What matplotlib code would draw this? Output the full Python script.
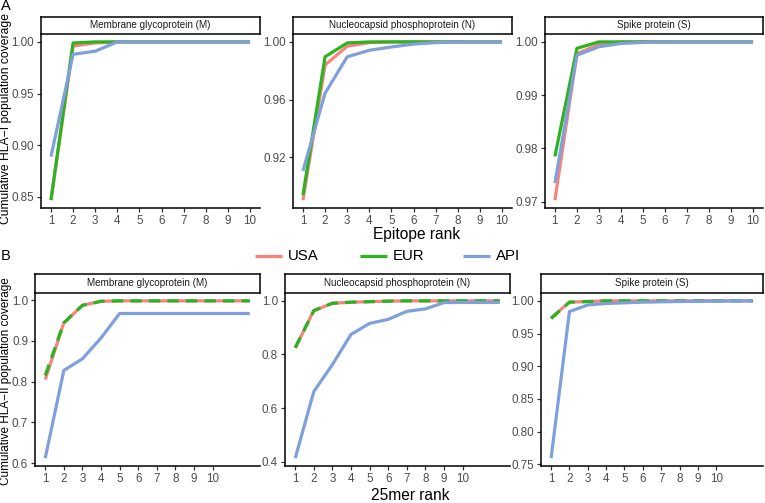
import matplotlib
matplotlib.use("Agg")
import matplotlib.pyplot as plt
from matplotlib.lines import Line2D
import numpy as np

plt.rcParams['font.family'] = ['Liberation Sans', 'DejaVu Sans']

W, H = 765, 503

# ---------------- data ----------------
proteins = ["Membrane glycoprotein (M)", "Nucleocapsid phosphoprotein (N)", "Spike protein (S)"]
populations = ["USA", "EUR", "API"]

# HLA-I, epitope rank 1..10
rank_I = list(range(1, 11))
hla1_M_usa = [0.847, 0.996, 0.999, 1.0, 1.0, 1.0, 1.0, 1.0, 1.0, 1.0]
hla1_M_eur = [0.847, 0.999, 1.0, 1.0, 1.0, 1.0, 1.0, 1.0, 1.0, 1.0]
hla1_M_api = [0.889, 0.988, 0.991, 1.0, 1.0, 1.0, 1.0, 1.0, 1.0, 1.0]

hla1_N_usa = [0.8905, 0.984, 0.997, 0.9995, 1.0, 1.0, 1.0, 1.0, 1.0, 1.0]
hla1_N_eur = [0.894, 0.9897, 0.9993, 1.0, 1.0, 1.0, 1.0, 1.0, 1.0, 1.0]
hla1_N_api = [0.9107, 0.9645, 0.9897, 0.9942, 0.9965, 0.9985, 0.9995, 1.0, 1.0, 1.0]

hla1_S_usa = [0.9703, 0.9978, 0.9995, 1.0, 1.0, 1.0, 1.0, 1.0, 1.0, 1.0]
hla1_S_eur = [0.9785, 0.9988, 1.0, 1.0, 1.0, 1.0, 1.0, 1.0, 1.0, 1.0]
hla1_S_api = [0.9735, 0.9975, 0.9991, 0.9997, 0.9999, 1.0, 1.0, 1.0, 1.0, 1.0]

# HLA-II, 25mer rank 1..12
rank_II = list(range(1, 13))
hla2_M_usa = [0.805, 0.944, 0.987, 0.997, 0.998, 0.998, 0.998, 0.998, 0.998, 0.998, 0.998, 0.998]
hla2_M_eur = [0.815, 0.944, 0.987, 0.997, 0.998, 0.998, 0.998, 0.998, 0.998, 0.998, 0.998, 0.998]
hla2_M_api = [0.6125, 0.8275, 0.856, 0.907, 0.967, 0.967, 0.967, 0.967, 0.967, 0.967, 0.967, 0.967]

hla2_N_usa = [0.825, 0.9636, 0.991, 0.995, 0.997, 0.999, 1.0, 1.0, 1.0, 1.0, 1.0, 1.0]
hla2_N_eur = [0.825, 0.9636, 0.991, 0.995, 0.997, 0.999, 1.0, 1.0, 1.0, 1.0, 1.0, 1.0]
hla2_N_api = [0.4135, 0.662, 0.7625, 0.875, 0.916, 0.931, 0.961, 0.970, 0.9937, 0.994, 0.994, 0.994]

hla2_S_usa = [0.974, 0.998, 0.999, 1.0, 1.0, 1.0, 1.0, 1.0, 1.0, 1.0, 1.0, 1.0]
hla2_S_eur = [0.973, 0.998, 0.999, 1.0, 1.0, 1.0, 1.0, 1.0, 1.0, 1.0, 1.0, 1.0]
hla2_S_api = [0.7595, 0.9836, 0.9938, 0.996, 0.997, 0.998, 0.9985, 0.999, 0.9993, 0.9995, 0.9998, 1.0]

xticks_I = list(range(1, 11))
xticks_II = list(range(1, 11))
yticks_I = [[0.85, 0.90, 0.95, 1.00], [0.92, 0.96, 1.00], [0.97, 0.98, 0.99, 1.00]]
yticks_II = [[0.6, 0.7, 0.8, 0.9, 1.0], [0.4, 0.6, 0.8, 1.0], [0.75, 0.80, 0.85, 0.90, 0.95, 1.00]]
yfmt_I = ["{:.2f}", "{:.2f}", "{:.2f}"]
yfmt_II = ["{:.1f}", "{:.1f}", "{:.2f}"]

colors = {"USA": "#F8837A", "EUR": "#2DB320", "API": "#7FA0DC"}

fig = plt.figure(figsize=(W / 100, H / 100), dpi=100)


def add_px_axes(x0, y0, x1, y1):
    return fig.add_axes([x0 / W, 1 - y1 / H, (x1 - x0) / W, (y1 - y0) / H])


def fx(px):
    return px / W


def fy(py):
    return 1 - py / H


def style_panel(ax):
    for s in ["top", "right"]:
        ax.spines[s].set_visible(False)
    for s in ["left", "bottom"]:
        ax.spines[s].set_linewidth(1.1)
        ax.spines[s].set_color("black")
    ax.tick_params(axis="both", length=3, width=0.9, color="#333333",
                   labelsize=8.4, labelcolor="#4D4D4D", pad=2)


def add_strip(x0, y0, x1, y1, text):
    sax = add_px_axes(x0, y0, x1, y1)
    sax.set_xticks([])
    sax.set_yticks([])
    for s in sax.spines.values():
        s.set_linewidth(1.1)
        s.set_color("black")
    sax.text(0.5, 0.5, text, ha="center", va="center", fontsize=7.1, color="#1A1A1A",
             transform=sax.transAxes)


lw = 2.3

top_boxes = [(41, 260), (293, 512), (545, 763)]
top_data = [(hla1_M_usa, hla1_M_eur, hla1_M_api),
            (hla1_N_usa, hla1_N_eur, hla1_N_api),
            (hla1_S_usa, hla1_S_eur, hla1_S_api)]
for i, ((x0, x1), (u, e, a)) in enumerate(zip(top_boxes, top_data)):
    ax = add_px_axes(x0, 34, x1, 208)
    ax.plot(rank_I, u, color=colors["USA"], lw=lw, solid_capstyle="butt")
    ax.plot(rank_I, e, color=colors["EUR"], lw=lw, solid_capstyle="butt")
    ax.plot(rank_I, a, color=colors["API"], lw=lw, solid_capstyle="butt")
    allv = u + e + a
    lo, hi = min(allv), max(allv)
    pad = (hi - lo) * 0.05
    ax.set_ylim(lo - pad, hi + pad)
    ax.set_xlim(1 - 0.45, 10 + 0.45)
    ax.set_xticks(xticks_I)
    ax.set_yticks(yticks_I[i])
    ax.set_yticklabels([yfmt_I[i].format(v) for v in yticks_I[i]])
    style_panel(ax)
    add_strip(x0, 17, x1, 34, proteins[i])

bot_boxes = [(35, 260), (285, 510), (541, 763)]
bot_data = [(hla2_M_usa, hla2_M_eur, hla2_M_api),
            (hla2_N_usa, hla2_N_eur, hla2_N_api),
            (hla2_S_usa, hla2_S_eur, hla2_S_api)]
for i, ((x0, x1), (u, e, a)) in enumerate(zip(bot_boxes, bot_data)):
    ax = add_px_axes(x0, 293, x1, 466)
    ax.plot(rank_II, u, color=colors["USA"], lw=lw, solid_capstyle="butt")
    ax.plot(rank_II, e, color=colors["EUR"], lw=lw, dashes=(3.6, 2.2), dash_capstyle="butt")
    ax.plot(rank_II, a, color=colors["API"], lw=lw, solid_capstyle="butt")
    allv = u + e + a
    lo, hi = min(allv), max(allv)
    pad = (hi - lo) * 0.05
    ax.set_ylim(lo - pad, hi + pad)
    ax.set_xlim(1 - 0.55, 12 + 0.55)
    ax.set_xticks(xticks_II)
    ax.set_yticks(yticks_II[i])
    ax.set_yticklabels([yfmt_II[i].format(v) for v in yticks_II[i]])
    style_panel(ax)
    add_strip(x0, 274, x1, 293, proteins[i])

# axis titles
fig.text(fx(417), fy(234), "Epitope rank", ha="center", va="center", fontsize=11.2)
fig.text(fx(410), fy(495), "25mer rank", ha="center", va="center", fontsize=11.2)
fig.text(fx(6.5), fy(119), "Cumulative HLA\u2212I population coverage", rotation=90,
         ha="center", va="center", fontsize=8.7)
fig.text(fx(6.5), fy(381), "Cumulative HLA\u2212II population coverage", rotation=90,
         ha="center", va="center", fontsize=8.5)
fig.text(fx(0.5), fy(5.5), "A", ha="left", va="center", fontsize=10.5)
fig.text(fx(0.5), fy(256), "B", ha="left", va="center", fontsize=10.5)

# legend (manual placement)
leg_y = 256
leg_items = [("USA", 255), ("EUR", 360), ("API", 463)]
for name, x0 in leg_items:
    fig.add_artist(Line2D([fx(x0), fx(x0 + 27)], [fy(leg_y), fy(leg_y)],
                          color=colors[name], lw=lw, solid_capstyle="butt",
                          transform=fig.transFigure))
    fig.text(fx(x0 + 33), fy(leg_y), name, ha="left", va="center", fontsize=10.8)

fig.savefig("out.png", dpi=100)
